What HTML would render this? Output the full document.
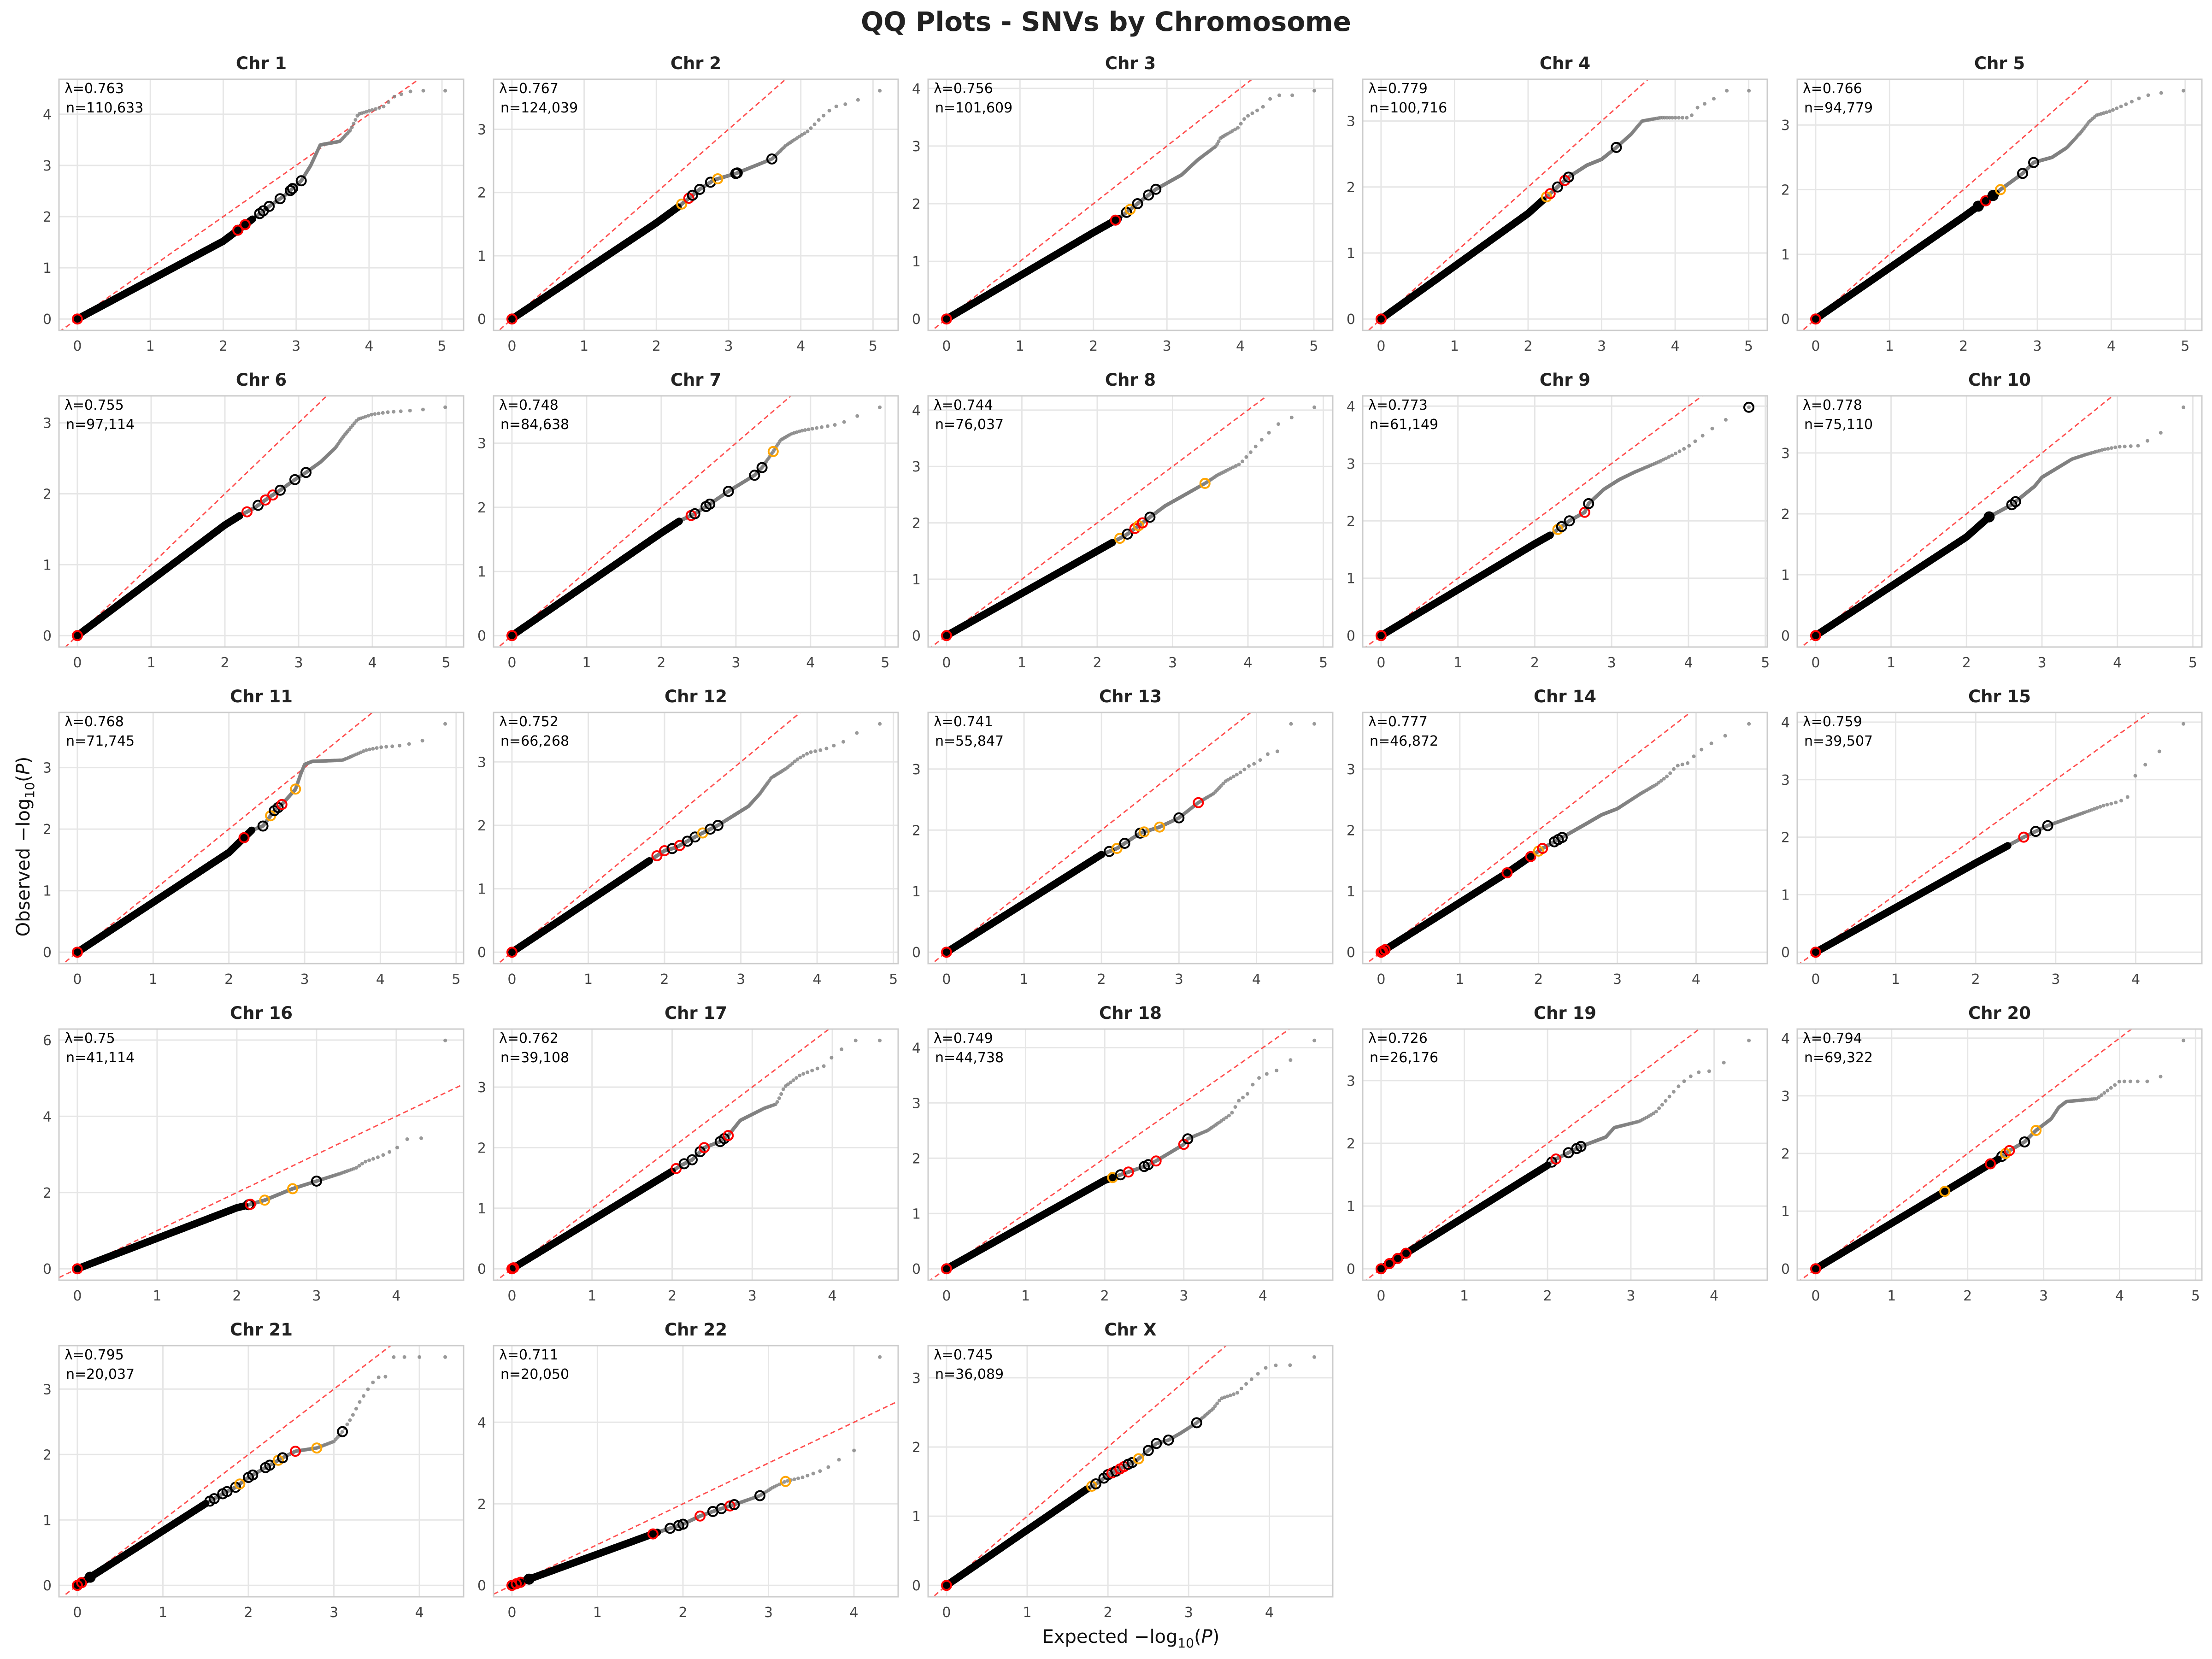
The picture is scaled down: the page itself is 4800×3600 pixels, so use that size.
<!DOCTYPE html>
<html><head><meta charset="utf-8"><style>
html,body{margin:0;padding:0;background:#fff;}
svg{display:block;font-family:"DejaVu Sans","Liberation Sans",sans-serif;}
</style></head><body>
<svg id="s" xmlns="http://www.w3.org/2000/svg" width="4800" height="3600" viewBox="0 0 4800 3600">
<rect width="4800" height="3600" fill="#fff"/>
<text x="2400" y="67" text-anchor="middle" font-size="58" font-weight="bold" fill="#222">QQ Plots - SNVs by Chromosome</text>
<text x="2454" y="3565" text-anchor="middle" font-size="40" fill="#111">Expected −log<tspan font-size="28" dy="10">10</tspan><tspan dy="-10">(</tspan><tspan font-style="italic">P</tspan>)</text>
<text transform="translate(64,1837) rotate(-90)" text-anchor="middle" font-size="40" fill="#111">Observed −log<tspan font-size="28" dy="10">10</tspan><tspan dy="-10">(</tspan><tspan font-style="italic">P</tspan>)</text>
<g id="g"></g>
</svg>
<script>
var D=[
["1","0.763","110,633",110633,4.46,2.4,[[0,0],[2,1.52],[2.4,1.95],[2.63,2.2],[2.85,2.42],[3.07,2.7],[3.2,3.0],[3.33,3.4],[3.6,3.47],[3.75,3.7],[3.85,4.0],[4.2,4.15],[4.35,4.35],[4.6,4.46],[5.044,4.46]],[[2.2,'r'],[2.3,'r'],[2.5,'k'],[2.55,'k'],[2.63,'k'],[2.78,'k'],[2.92,'k'],[2.95,'k'],[3.07,'k']]],
["2","0.767","124,039",124039,3.61,2.3,[[0,0],[2,1.52],[2.3,1.77],[2.6,2.05],[2.8,2.2],[3.1,2.3],[3.6,2.53],[3.8,2.75],[4.0,2.9],[4.1,2.97],[4.25,3.15],[4.45,3.35],[4.7,3.42],[5.094,3.61]],[[2.35,'o'],[2.45,'r'],[2.5,'k'],[2.6,'k'],[2.75,'k'],[2.85,'o'],[3.1,'k'],[3.12,'k'],[3.6,'k']]],
["3","0.756","101,609",101609,3.96,2.35,[[0,0],[2,1.5],[2.35,1.75],[2.5,1.9],[2.85,2.25],[3.2,2.5],[3.42,2.76],[3.67,3.0],[3.73,3.14],[3.97,3.32],[4.07,3.5],[4.3,3.67],[4.45,3.88],[4.75,3.88],[5.007,3.96]],[[2.3,'r'],[2.45,'k'],[2.5,'o'],[2.6,'k'],[2.75,'k'],[2.85,'k']]],
["4","0.779","100,716",100716,3.46,2.2,[[0,0],[2,1.6],[2.2,1.8],[2.3,1.9],[2.55,2.15],[2.8,2.33],[3.0,2.42],[3.2,2.6],[3.4,2.8],[3.55,3.0],[3.8,3.05],[4.2,3.05],[4.3,3.2],[4.5,3.32],[4.7,3.46],[5.003,3.46]],[[2.25,'o'],[2.3,'r'],[2.4,'k'],[2.5,'r'],[2.55,'k'],[3.2,'k']]],
["5","0.766","94,779",94779,3.53,2.45,[[0,0],[2,1.58],[2.45,1.95],[2.5,2.0],[2.8,2.25],[2.95,2.42],[3.2,2.5],[3.4,2.65],[3.6,2.9],[3.7,3.05],[3.8,3.15],[4.0,3.22],[4.2,3.32],[4.45,3.45],[4.7,3.5],[4.977,3.53]],[[2.2,'k'],[2.3,'r'],[2.4,'k'],[2.5,'o'],[2.8,'k'],[2.95,'k']]],
["6","0.755","97,114",97114,3.22,2.2,[[0,0],[2,1.56],[2.2,1.69],[2.4,1.8],[2.6,1.95],[2.75,2.05],[2.95,2.2],[3.1,2.3],[3.3,2.45],[3.5,2.65],[3.6,2.8],[3.72,2.95],[3.8,3.05],[4.0,3.12],[4.2,3.15],[4.6,3.18],[4.987,3.22]],[[2.3,'r'],[2.45,'k'],[2.55,'r'],[2.65,'r'],[2.75,'k'],[2.95,'k'],[3.1,'k']]],
["7","0.748","84,638",84638,3.56,2.25,[[0,0],[2,1.6],[2.25,1.79],[2.45,1.9],[2.65,2.05],[2.9,2.25],[3.25,2.5],[3.35,2.62],[3.5,2.87],[3.6,3.05],[3.75,3.15],[3.9,3.2],[4.4,3.3],[4.6,3.42],[4.85,3.45],[4.928,3.56]],[[2.4,'r'],[2.45,'k'],[2.6,'k'],[2.65,'k'],[2.9,'k'],[3.25,'k'],[3.35,'k'],[3.5,'o']]],
["8","0.744","76,037",76037,4.05,2.2,[[0,0],[2,1.5],[2.2,1.65],[2.4,1.8],[2.7,2.1],[2.9,2.3],[3.1,2.45],[3.43,2.7],[3.6,2.85],[3.9,3.05],[4.0,3.2],[4.2,3.5],[4.4,3.75],[4.55,3.85],[4.881,4.05]],[[2.3,'o'],[2.4,'k'],[2.5,'r'],[2.55,'o'],[2.6,'r'],[2.7,'k'],[3.43,'o']]],
["9","0.773","61,149",61149,3.98,2.2,[[0,0],[2,1.6],[2.2,1.75],[2.45,2.0],[2.65,2.15],[2.7,2.3],[2.9,2.55],[3.1,2.72],[3.3,2.85],[3.6,3.02],[3.8,3.15],[4.0,3.3],[4.2,3.5],[4.4,3.7],[4.786,3.98]],[[2.3,'o'],[2.35,'k'],[2.45,'k'],[2.65,'r'],[2.7,'k'],[4.786,'k']]],
["10","0.778","75,110",75110,3.75,2.3,[[0,0],[2,1.62],[2.3,1.95],[2.6,2.15],[2.9,2.45],[3.0,2.6],[3.2,2.75],[3.4,2.9],[3.6,2.98],[3.8,3.05],[4.0,3.1],[4.3,3.12],[4.4,3.2],[4.6,3.35],[4.876,3.75]],[[2.3,'k'],[2.6,'k'],[2.65,'k']]],
["11","0.768","71,745",71745,3.71,2.3,[[0,0],[2,1.62],[2.3,1.98],[2.45,2.05],[2.6,2.3],[2.7,2.4],[2.88,2.65],[2.95,2.9],[3.0,3.05],[3.1,3.1],[3.5,3.12],[3.6,3.17],[3.8,3.28],[4.0,3.33],[4.3,3.36],[4.6,3.45],[4.856,3.71]],[[2.2,'r'],[2.45,'k'],[2.55,'o'],[2.6,'k'],[2.65,'k'],[2.7,'r'],[2.88,'o']]],
["12","0.752","66,268",66268,3.6,1.8,[[0,0],[1.8,1.44],[2.0,1.6],[2.15,1.65],[2.3,1.75],[2.45,1.85],[2.7,2.0],[2.9,2.15],[3.1,2.3],[3.25,2.5],[3.4,2.75],[3.6,2.9],[3.75,3.05],[3.9,3.15],[4.1,3.2],[4.35,3.32],[4.55,3.48],[4.821,3.6]],[[1.9,'r'],[2.0,'r'],[2.1,'k'],[2.2,'r'],[2.3,'k'],[2.4,'k'],[2.5,'o'],[2.6,'k'],[2.7,'k']]],
["13","0.741","55,847",55847,3.74,2.0,[[0,0],[2,1.6],[2.2,1.7],[2.5,1.95],[2.75,2.05],[3.0,2.2],[3.25,2.45],[3.45,2.6],[3.6,2.8],[3.8,2.95],[3.9,3.05],[4.0,3.1],[4.15,3.25],[4.3,3.3],[4.32,3.74],[4.747,3.74]],[[2.1,'k'],[2.2,'o'],[2.3,'k'],[2.5,'k'],[2.55,'o'],[2.75,'o'],[3.0,'k'],[3.25,'r']]],
["14","0.777","46,872",46872,3.74,1.9,[[0,0],[1.6,1.3],[2.05,1.7],[2.3,1.88],[2.6,2.1],[2.8,2.25],[3.0,2.35],[3.3,2.6],[3.5,2.75],[3.65,2.9],[3.75,3.05],[3.9,3.1],[4.0,3.25],[4.1,3.35],[4.3,3.5],[4.671,3.74]],[[0.02,'r'],[0.05,'r'],[1.6,'r'],[1.9,'r'],[2.0,'o'],[2.05,'r'],[2.2,'k'],[2.25,'k'],[2.3,'k']]],
["15","0.759","39,507",39507,3.97,2.4,[[0,0],[2,1.55],[2.4,1.85],[2.6,2.0],[2.75,2.1],[2.9,2.2],[3.2,2.35],[3.4,2.45],[3.6,2.55],[3.8,2.62],[3.9,2.7],[3.95,2.8],[4.0,3.1],[4.1,3.25],[4.2,3.3],[4.3,3.5],[4.597,3.97]],[[2.6,'r'],[2.75,'k'],[2.9,'k']]],
["16","0.75","41,114",41114,5.99,2.1,[[0,0],[2,1.6],[2.1,1.65],[2.35,1.8],[2.7,2.1],[3.0,2.3],[3.3,2.5],[3.5,2.65],[3.6,2.8],[3.8,2.95],[4.0,3.15],[4.1,3.4],[4.31,3.4],[4.614,5.99]],[[2.15,'k'],[2.17,'r'],[2.35,'o'],[2.7,'o'],[3.0,'k']]],
["17","0.762","39,108",39108,3.77,2.0,[[0,0],[2,1.61],[2.1,1.7],[2.25,1.8],[2.4,2.0],[2.6,2.1],[2.7,2.2],[2.85,2.45],[3.0,2.55],[3.15,2.65],[3.3,2.72],[3.35,2.85],[3.4,3.0],[3.5,3.1],[3.6,3.2],[3.9,3.35],[4.0,3.5],[4.25,3.77],[4.592,3.77]],[[0.02,'r'],[2.05,'r'],[2.15,'k'],[2.25,'k'],[2.35,'k'],[2.4,'r'],[2.6,'k'],[2.65,'k'],[2.7,'r']]],
["18","0.749","44,738",44738,4.13,2.1,[[0,0],[2,1.6],[2.2,1.7],[2.5,1.85],[2.65,1.95],[3.0,2.25],[3.05,2.35],[3.3,2.5],[3.5,2.7],[3.6,2.8],[3.7,3.05],[3.8,3.15],[3.9,3.4],[4.0,3.5],[4.2,3.6],[4.651,4.13]],[[2.1,'o'],[2.2,'k'],[2.3,'r'],[2.5,'k'],[2.55,'k'],[2.65,'r'],[3.0,'r'],[3.05,'k']]],
["19","0.726","26,176",26176,3.64,2.0,[[0,0],[2,1.65],[2.1,1.75],[2.25,1.85],[2.4,1.95],[2.7,2.1],[2.8,2.25],[3.1,2.35],[3.2,2.42],[3.3,2.5],[3.4,2.65],[3.5,2.8],[3.6,2.95],[3.75,3.1],[3.85,3.15],[4.0,3.15],[4.418,3.64]],[[0.1,'r'],[0.2,'r'],[0.3,'r'],[2.05,'k'],[2.1,'r'],[2.25,'k'],[2.35,'k'],[2.4,'k']]],
["20","0.794","69,322",69322,3.96,2.4,[[0,0],[2,1.58],[2.4,1.9],[2.55,2.05],[2.75,2.2],[2.9,2.4],[3.1,2.6],[3.2,2.8],[3.3,2.9],[3.7,2.95],[3.8,3.05],[3.9,3.15],[4.0,3.25],[4.5,3.25],[4.841,3.96]],[[1.7,'o'],[2.3,'r'],[2.45,'k'],[2.5,'o'],[2.55,'r'],[2.75,'k'],[2.9,'o']]],
["21","0.795","20,037",20037,3.49,1.5,[[0,0],[1.5,1.25],[1.7,1.4],[1.85,1.5],[2.0,1.65],[2.2,1.8],[2.4,1.95],[2.55,2.05],[2.8,2.1],[3.0,2.2],[3.1,2.35],[3.2,2.55],[3.3,2.8],[3.4,3.0],[3.5,3.18],[3.6,3.18],[3.7,3.49],[4.302,3.49]],[[0.05,'r'],[0.15,'k'],[1.55,'k'],[1.6,'k'],[1.7,'k'],[1.75,'k'],[1.85,'k'],[1.9,'o'],[2.0,'k'],[2.05,'k'],[2.2,'k'],[2.25,'k'],[2.35,'o'],[2.4,'k'],[2.55,'r'],[2.8,'o'],[3.1,'k']]],
["22","0.711","20,050",20050,5.6,1.7,[[0,0],[1.7,1.3],[2.0,1.5],[2.2,1.7],[2.4,1.85],[2.6,1.98],[2.9,2.2],[3.05,2.4],[3.2,2.55],[3.4,2.65],[3.6,2.8],[3.7,2.9],[3.8,3.05],[4.0,3.3],[4.302,5.6]],[[0.05,'r'],[0.1,'r'],[0.2,'k'],[1.65,'r'],[1.85,'k'],[1.95,'k'],[2.0,'k'],[2.2,'r'],[2.35,'k'],[2.45,'k'],[2.55,'r'],[2.6,'k'],[2.9,'k'],[3.2,'o']]],
["X","0.745","36,089",36089,3.3,1.75,[[0,0],[1.75,1.4],[1.9,1.5],[2.0,1.6],[2.1,1.65],[2.25,1.75],[2.35,1.8],[2.5,1.95],[2.6,2.05],[2.75,2.1],[2.9,2.2],[3.1,2.35],[3.2,2.45],[3.3,2.55],[3.4,2.7],[3.6,2.78],[3.7,2.9],[3.8,3.0],[3.9,3.1],[4.0,3.18],[4.25,3.18],[4.557,3.3]],[[1.8,'o'],[1.85,'k'],[1.95,'k'],[2.0,'k'],[2.05,'r'],[2.1,'k'],[2.15,'r'],[2.2,'r'],[2.25,'k'],[2.3,'k'],[2.38,'o'],[2.5,'k'],[2.6,'k'],[2.75,'k'],[3.1,'k']]]
];
var COL={k:'#000',r:'#ff0000',o:'#ffa500'};
var h=[];
function interp(p,e){if(e<=p[0][0])return p[0][1];for(var i=1;i<p.length;i++){if(e<=p[i][0]){var a=p[i-1],b=p[i];return a[1]+(b[1]-a[1])*(e-a[0])/(b[0]-a[0]);}}return p[p.length-1][1];}
D.forEach(function(d,k){
 var c=k%5,r=Math.floor(k/5);
 var L=128+943*c,T=172+687*r,W=878,H=545;
 var xmax=Math.log10(d[3]),M=d[4];
 var x0=-0.05*xmax,x1=1.05*xmax,y0=-0.05*M,y1=1.05*M;
 function X(v){return L+(v-x0)/(x1-x0)*W;}
 function Y(v){return T+H-(v-y0)/(y1-y0)*H;}
 h.push('<clipPath id="c'+k+'"><rect x="'+L+'" y="'+T+'" width="'+W+'" height="'+H+'"/></clipPath>');
 for(var t=0;t<=x1;t++){var xx=X(t).toFixed(1);h.push('<line x1="'+xx+'" y1="'+T+'" x2="'+xx+'" y2="'+(T+H)+'" stroke="#e6e6e6" stroke-width="3"/>');h.push('<text x="'+xx+'" y="'+(T+H+44)+'" text-anchor="middle" font-size="30" fill="#444">'+t+'</text>');}
 var st=M>5?2:1;
 for(var t=0;t<=y1;t+=st){var yy=Y(t).toFixed(1);h.push('<line x1="'+L+'" y1="'+yy+'" x2="'+(L+W)+'" y2="'+yy+'" stroke="#e6e6e6" stroke-width="3"/>');h.push('<text x="'+(L-16)+'" y="'+(+yy+11)+'" text-anchor="end" font-size="30" fill="#444">'+t+'</text>');}
 h.push('<g clip-path="url(#c'+k+')">');
 h.push('<line x1="'+X(x0)+'" y1="'+Y(x0)+'" x2="'+X(x1+10)+'" y2="'+Y(x1+10)+'" stroke="#ff3333" stroke-opacity="0.85" stroke-width="3" stroke-dasharray="11,7"/>');
 var n=d[3],eb=d[5],p=d[6];
 var imax=Math.floor(n/Math.pow(10,eb-0.05));
 var dots=[];
 for(var i=1;i<=imax;i++){var e=Math.log10(n/i);var o=interp(p,e);dots.push('<circle cx="'+X(e).toFixed(1)+'" cy="'+Y(o).toFixed(1)+'" r="4"/>');}
 h.push('<g fill="#808080" fill-opacity="0.8">'+dots.join('')+'</g>');
 var pts=[];for(var e=0;e<=eb+0.001;e+=0.02){pts.push(X(e).toFixed(1)+','+Y(interp(p,e)).toFixed(1));}
 h.push('<polyline points="'+pts.join(' ')+'" fill="none" stroke="#000" stroke-width="16" stroke-linecap="round" stroke-linejoin="round"/>');
 h.push('<circle cx="'+X(0)+'" cy="'+Y(0)+'" r="10" fill="none" stroke="#ff0000" stroke-width="4"/>');
 d[7].forEach(function(q){var o=interp(p,q[0]);h.push('<circle cx="'+X(q[0]).toFixed(1)+'" cy="'+Y(o).toFixed(1)+'" r="10" fill="none" stroke="'+COL[q[1]]+'" stroke-width="4"/>');});
 h.push('</g>');
 h.push('<rect x="'+L+'" y="'+T+'" width="'+W+'" height="'+H+'" fill="none" stroke="#cccccc" stroke-width="3"/>');
 h.push('<text x="'+(L+W/2)+'" y="'+(T-22)+'" text-anchor="middle" font-size="37" font-weight="bold" fill="#222">Chr '+d[0]+'</text>');
 h.push('<text x="'+(L+12)+'" y="'+(T+30)+'" font-size="30" fill="#000">λ='+d[1]+'</text>');
 h.push('<text x="'+(L+15)+'" y="'+(T+72)+'" font-size="30" fill="#000">n='+d[2]+'</text>');
});
document.getElementById('g').innerHTML=h.join('');
</script>
</body></html>
